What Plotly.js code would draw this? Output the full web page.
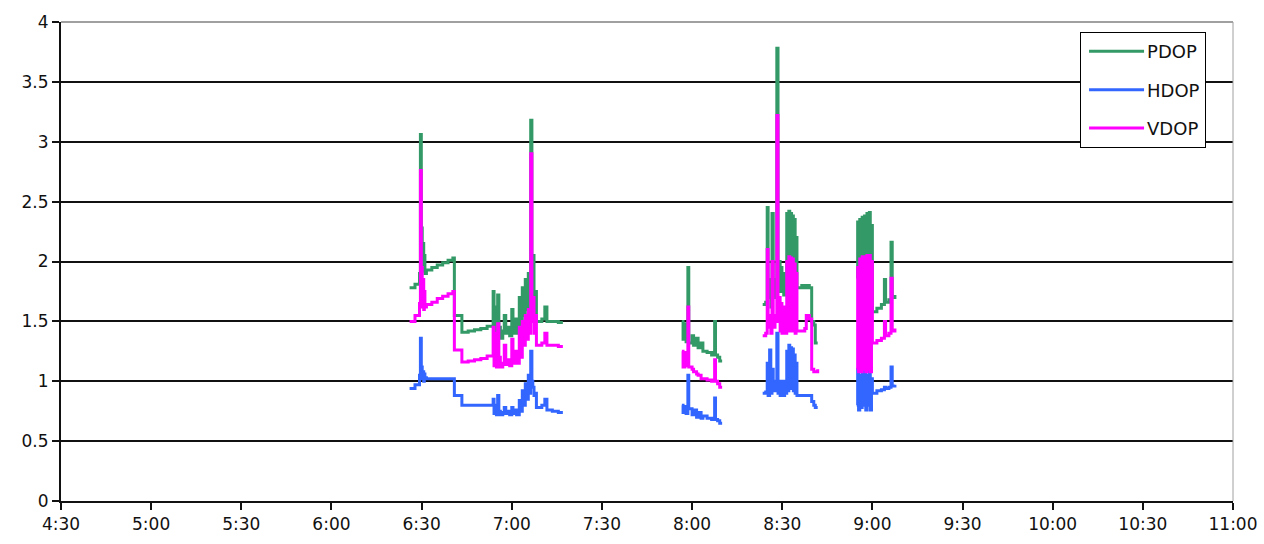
<!DOCTYPE html>
<html>
<head>
<meta charset="utf-8">
<script src="https://cdn.plot.ly/plotly-3.0.1.min.js"></script>
<style>html,body{margin:0;padding:0;background:#fff;}#chart{width:1264px;height:544px;}</style>
</head>
<body>
<div id="chart"></div>
<script>
// time in minutes since midnight
const timeMin = [
 386.0,387.8,389.3,389.6,389.9,390.2,390.5,390.7,390.9,391.1,391.6,393.4,395.2,397.0,398.8,400.4,400.9,403.4,405.5,407.6,409.7,411.8,
 413.8,414.1,414.5,414.9,415.3,415.7,416.2,417.0,417.5,418.0,418.6,419.3,420.0,420.4,421.0,421.6,422.5,423.0,423.5,424.0,424.5,425.0,425.5,425.9,
 426.3,426.7,427.0,427.4,427.8,428.2,430.0,431.0,431.7,433.5,435.5,437.0,438.0,
 476.6,477.0,477.6,478.0,478.6,478.9,480.0,480.5,481.5,482.0,483.0,483.6,485.0,486.5,487.5,487.8,488.5,489.2,490.0,491.0,
 503.5,504.5,505.0,505.3,505.8,506.2,506.6,507.0,507.6,508.2,508.6,509.0,509.3,509.6,509.9,510.2,510.5,510.8,511.1,511.5,511.8,512.2,512.5,512.8,513.1,513.4,513.7,514.0,514.3,514.6,514.9,
 516.5,517.5,518.0,519.0,519.8,520.5,521.0,521.8,523.0,
 534.8,535.1,535.4,535.8,536.2,536.6,537.0,537.4,537.8,538.2,538.6,539.0,539.3,539.7,540.0,541.5,543.0,544.0,544.4,545.5,546.2,546.6,547.5
];
const pdop = [
 1.78,1.81,1.90,3.06,2.28,1.95,2.15,1.92,2.05,1.90,1.93,1.95,1.97,1.99,2.01,2.03,1.55,1.41,1.42,1.43,1.44,1.46,
 1.75,1.40,1.62,1.38,1.72,1.45,1.36,1.42,1.55,1.40,1.45,1.38,1.60,1.40,1.52,1.40,1.70,1.45,1.78,1.55,1.85,1.60,1.90,1.62,
 3.18,1.70,2.05,1.60,1.75,1.50,1.52,1.62,1.50,1.50,1.49,1.49,null,
 1.50,1.35,1.48,1.33,1.95,1.32,1.38,1.30,1.36,1.28,1.32,1.25,1.24,1.22,1.50,1.22,1.20,1.17,1.17,null,
 1.64,1.66,2.45,1.70,1.85,1.62,2.40,1.70,1.85,3.78,1.80,2.00,1.75,1.95,1.78,1.85,1.72,1.90,1.75,2.40,1.85,2.42,1.88,2.40,1.90,2.38,1.85,2.35,1.82,2.20,1.78,
 1.80,1.78,1.80,1.78,1.50,1.47,1.32,1.32,null,
 1.86,2.33,1.70,2.35,1.80,2.37,1.90,2.38,1.75,2.40,1.85,2.41,1.80,2.30,1.58,1.61,1.64,1.85,1.66,1.68,2.16,1.70,1.72
];
const hdop = [
 0.94,0.97,1.05,1.36,1.12,1.02,1.08,1.00,1.06,1.03,1.02,1.02,1.02,1.02,1.02,1.02,0.88,0.80,0.80,0.80,0.80,0.80,
 0.85,0.73,0.80,0.72,0.88,0.75,0.72,0.74,0.78,0.73,0.75,0.72,0.78,0.73,0.76,0.72,0.84,0.75,0.92,0.80,0.98,0.85,1.05,0.90,
 1.25,1.00,0.95,0.88,0.90,0.78,0.80,0.85,0.76,0.75,0.74,0.74,null,
 0.80,0.74,0.79,0.73,1.05,0.77,0.72,0.76,0.70,0.74,0.69,0.71,0.69,0.68,0.86,0.68,0.67,0.65,0.65,null,
 0.90,0.91,1.15,0.88,1.26,0.90,1.10,0.92,1.00,1.40,0.90,0.95,0.88,1.00,0.90,0.95,0.88,1.00,0.90,1.25,0.92,1.30,0.95,1.28,0.94,1.27,0.92,1.22,0.90,1.15,0.88,
 0.88,0.88,0.88,0.88,0.83,0.80,0.78,0.78,null,
 0.80,1.10,0.76,1.05,0.78,1.08,0.80,1.10,0.76,1.05,0.80,1.10,0.76,1.02,0.90,0.92,0.93,0.95,0.94,0.95,1.12,0.96,0.97
];
const vdop = [
 1.50,1.55,1.65,2.76,1.95,1.62,1.85,1.60,1.75,1.62,1.64,1.66,1.69,1.71,1.73,1.75,1.26,1.16,1.17,1.18,1.19,1.21,
 1.45,1.13,1.40,1.12,1.48,1.20,1.12,1.15,1.30,1.14,1.18,1.13,1.35,1.15,1.25,1.15,1.45,1.20,1.50,1.30,1.55,1.35,1.60,1.40,
 2.90,1.50,1.70,1.40,1.55,1.30,1.32,1.40,1.30,1.30,1.29,1.29,null,
 1.25,1.12,1.24,1.13,1.62,1.12,1.10,1.08,1.06,1.05,1.02,1.02,1.01,1.00,1.18,1.00,0.98,0.95,0.95,null,
 1.38,1.40,2.10,1.45,1.55,1.40,2.00,1.45,1.55,3.22,1.50,1.70,1.42,1.65,1.40,1.60,1.42,1.62,1.40,2.00,1.45,2.04,1.42,2.03,1.45,2.02,1.42,1.98,1.40,1.90,1.42,
 1.42,1.44,1.55,1.52,1.10,1.08,1.08,1.10,null,
 1.10,1.95,1.08,2.02,1.08,2.04,1.10,2.04,1.08,2.05,1.10,2.05,1.08,2.00,1.32,1.34,1.36,1.50,1.38,1.40,1.86,1.42,1.44
];
const seriesNames = ['PDOP','HDOP','VDOP'];
const seriesColors = ['#339966','#3366FF','#FF00FF'];
const xTickVals = [270,300,330,360,390,420,450,480,510,540,570,600,630,660];
const xTickText = ['4:30','5:00','5:30','6:00','6:30','7:00','7:30','8:00','8:30','9:00','9:30','10:00','10:30','11:00'];
const yTickVals = [0,0.5,1,1.5,2,2.5,3,3.5,4];
const yTickText = ['0','0.5','1','1.5','2','2.5','3','3.5','4'];

const values = [pdop, hdop, vdop];
const traces = values.map((v,i)=>({
  x: timeMin, y: v, type:'scatter', mode:'lines', name: seriesNames[i],
  line:{color:seriesColors[i], width:3, shape:'hv'},
  connectgaps:false, legendgroup:'g'+i
}));

const font = {family:'DejaVu Sans, Verdana, sans-serif', size:17, color:'#111'};
const layout = {
  width:1264, height:544,
  margin:{l:61, r:31, t:22, b:43},
  paper_bgcolor:'#fff', plot_bgcolor:'#fff',
  font: font,
  showlegend:true,
  legend:{x:0.8695, y:0.979, xanchor:'left', yanchor:'top', bgcolor:'#fff',
          bordercolor:'#000', borderwidth:1, font:{family:font.family, size:18, color:'#111'},
          tracegroupgap:12, itemwidth:56},
  xaxis:{range:[270,660], tickvals:xTickVals, ticktext:xTickText, showgrid:false,
         zeroline:false, showline:true, linecolor:'#111', linewidth:2,
         ticks:'outside', ticklen:7, tickwidth:2, tickcolor:'#111', fixedrange:true},
  yaxis:{range:[0,4], tickvals:yTickVals, ticktext:yTickText, showgrid:true,
         gridcolor:'#111', gridwidth:2, zeroline:false, showline:true,
         linecolor:'#111', linewidth:2, ticks:'outside', ticklen:7, tickwidth:2, tickcolor:'#111', fixedrange:true},
  shapes:[
    {type:'line', xref:'paper', yref:'paper', x0:0, x1:1, y0:1, y1:1, line:{color:'#a0a0a0', width:2}},
    {type:'line', xref:'paper', yref:'paper', x0:1, x1:1, y0:0, y1:1, line:{color:'#a0a0a0', width:1}}
  ]
};
Plotly.newPlot('chart', traces, layout, {displayModeBar:false, staticPlot:true}).then(()=>{
  // lengthen legend line samples to match the reference
  document.querySelectorAll('.legend .legendlines path').forEach(p=>p.setAttribute('d','M8,0h55'));
});
</script>
</body>
</html>
